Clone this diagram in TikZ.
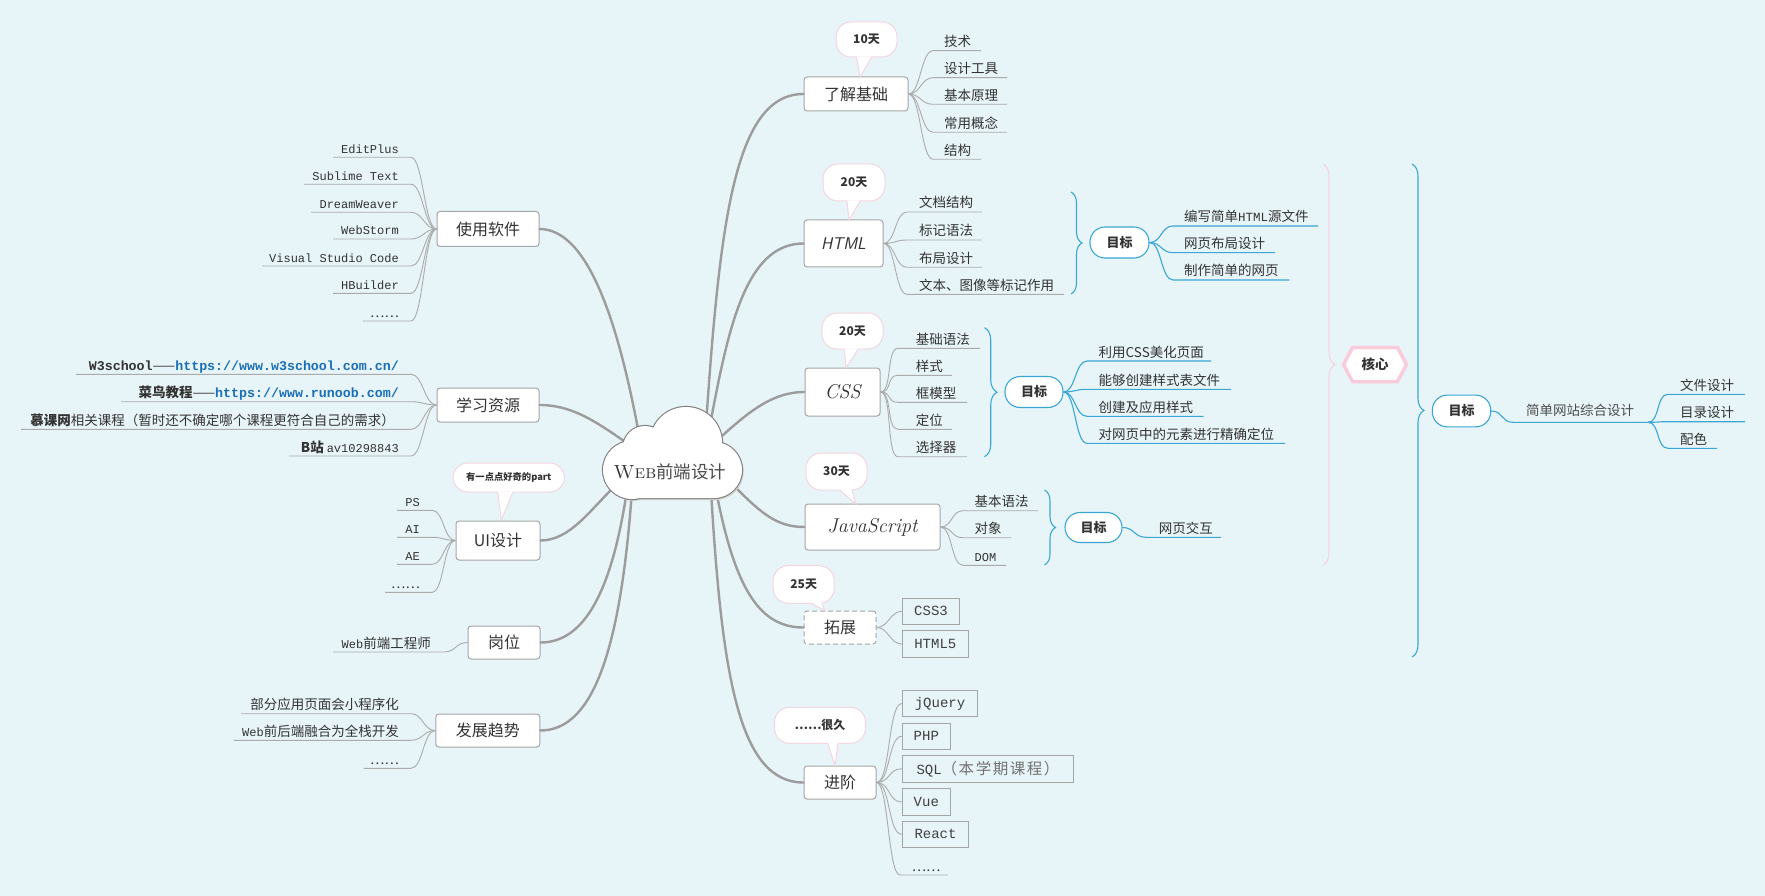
\documentclass[tikz,border=0pt]{standalone}
\usepackage{fontspec}
\newfontfamily\cjk{Noto Sans CJK SC}
\newfontfamily\mono{Liberation Mono}
\usetikzlibrary{decorations.pathreplacing,calc}
\definecolor{bgc}{HTML}{E7F4F8}
\definecolor{txt}{HTML}{333333}
\definecolor{lgray}{HTML}{9C9C9C}
\definecolor{sgray}{HTML}{ABABAB}
\definecolor{bgray}{HTML}{A5A5A5}
\definecolor{bl}{HTML}{3AA7D6}
\definecolor{pk}{HTML}{F4D6E1}
\definecolor{pkh}{HTML}{F8CCDA}
\definecolor{lnk}{HTML}{1A6FB5}
\newcommand{\mt}[1]{{\mono\fontsize{12}{14}\selectfont #1}}
\newcommand{\wb}[1]{{\mono\bfseries\fontsize{13.3}{15}\selectfont #1}}
\newcommand{\lk}[1]{{\mono\bfseries\fontsize{13.3}{15}\selectfont\color{lnk}#1}}
% right item: name, parent, x start, y, x end, x text, text, style
\newcommand{\Rit}[8]{%
  \coordinate (#1s) at (#3,#4);
  \coordinate (#1e) at (#5,#4);
  \node[itm,anchor=base west] (#1) at (#6,#4-4) {#7};
  \draw[#8] (#2) .. controls +(12,0) and +(-12,0) .. (#1s) -- (#1e);
}
% left item: name, parent, x start, y, x end, x text right, text, style
\newcommand{\Lit}[8]{%
  \coordinate (#1s) at (#3,#4);
  \coordinate (#1e) at (#5,#4);
  \node[itm,anchor=base east] (#1) at (#6,#4-4) {#7};
  \draw[#8] (#2) .. controls +(-12,0) and +(12,0) .. (#1s) -- (#1e);
}
% bubble: name, center, w, h, base dx1, base dx2, tip, text
\newcommand{\Bub}[8]{%
  \node[bubble, minimum width=#3, minimum height=#4] (#1) at (#2) {#8};
  \coordinate (#1t) at #7;
  \fill[white] ([xshift=#5, yshift=1.2]#1.south) -- (#1t) -- ([xshift=#6, yshift=1.2]#1.south) -- cycle;
  \draw[draw=pk, line width=1] ([xshift=#5]#1.south) -- (#1t) -- ([xshift=#6]#1.south);
}
\tikzset{
 every node/.style={text=txt, font=\cjk\fontsize{13.5}{15}\selectfont},
 mbox/.style={draw=bgray, fill=white, rounded corners=3, line width=1, inner sep=0, font=\cjk\fontsize{16}{18}\selectfont},
 itm/.style={inner sep=0},
 main/.style={draw=lgray, line width=2.4, line cap=round},
 sub/.style={draw=sgray, line width=0.9},
 subb/.style={draw=bl, line width=1.1},
 bubble/.style={draw=pk, fill=white, rounded corners=15, line width=1, inner sep=0, font=\cjk\bfseries\fontsize{12}{14}\selectfont},
 goal/.style={draw=bl, fill=white, rounded corners=15, line width=1.1, inner sep=0, font=\cjk\bfseries\fontsize{13}{15}\selectfont},
 rbox/.style={draw=bgray, line width=0.9, inner sep=0, font=\mono\fontsize{14}{16}\selectfont, text=black!75},
 brc/.style={decorate, decoration={brace, amplitude=#1}},
}
\begin{document}
\begin{tikzpicture}[x=1pt,y=-1pt]
\fill[bgc] (0,0) rectangle (1765,896);
\useasboundingbox (0,0) rectangle (1765,896);

% ---------- main boxes ----------
\node[mbox, minimum width=102, minimum height=35] (sy) at (488,229) {使用软件};
\node[mbox, minimum width=102, minimum height=34] (xx) at (488,405) {学习资源};
\node[mbox, minimum width=84, minimum height=39] (ui) at (498,540.5) {UI设计};
\node[mbox, minimum width=72, minimum height=33] (gw) at (504,642.5) {岗位};
\node[mbox, minimum width=104, minimum height=33] (fz) at (487.75,730.5) {发展趋势};
\node[mbox, minimum width=104, minimum height=34] (jc) at (856,94) {了解基础};
\node[mbox, minimum width=79, minimum height=47, font=\sffamily\itshape\fontsize{17}{18}\selectfont] (html) at (843.5,243.5) {HTML};
\node[mbox, minimum width=75, minimum height=48, font=\rmfamily\itshape\fontsize{20}{22}\selectfont] (css) at (842.5,392) {CSS};
\node[mbox, minimum width=135, minimum height=46, font=\rmfamily\itshape\fontsize{20}{22}\selectfont] (js) at (872.5,527) {JavaScript};
\node[mbox, minimum width=72, minimum height=33, dash pattern=on 5pt off 3pt] (tz) at (840,627.5) {拓展};
\node[mbox, minimum width=72, minimum height=33] (jj) at (840,782.5) {进阶};

% ---------- main connectors ----------
\coordinate (s1) at (706,425); \coordinate (s2) at (710,425);
\coordinate (s3) at (712,445); \coordinate (s4) at (728,480);
\coordinate (s5) at (716,490); \coordinate (s6) at (711,490);
\coordinate (s7) at (640,440); \coordinate (s8) at (630,445);
\coordinate (s9) at (616,485); \coordinate (s10) at (627,490);
\coordinate (s11) at (632,490);
\draw[main] (s1) .. controls (720,220) and (735,94) .. (jc.west);
\draw[main] (s2) .. controls (728,330) and (745,243.5) .. (html.west);
\draw[main] (s3) .. controls (745,415) and (770,392) .. (css.west);
\draw[main] (s4) .. controls (760,512) and (775,527) .. (js.west);
\draw[main] (s5) .. controls (735,590) and (760,627.5) .. (tz.west);
\draw[main] (s6) .. controls (722,680) and (740,782.5) .. (jj.west);
\draw[main] (s7) .. controls (620,330) and (590,229) .. (sy.east);
\draw[main] (s8) .. controls (600,425) and (575,405) .. (xx.east);
\draw[main] (s9) .. controls (590,510) and (570,540.5) .. (ui.east);
\draw[main] (s10) .. controls (612,590) and (585,642.5) .. (gw.east);
\draw[main] (s11) .. controls (620,660) and (590,730.5) .. (fz.east);

% ---------- cloud ----------
\begin{scope}[shift={(1.5,2)}]
\fill[black!18] (632,470) circle[radius=29pt] (645,448) circle[radius=22pt] (686,443) circle[radius=36pt] (714,470) circle[radius=28pt] (632,452) rectangle (714,498);
\end{scope}
\draw[line width=2.2, draw=black!50] (632,470) circle[radius=29pt] (645,448) circle[radius=22pt] (686,443) circle[radius=36pt] (714,470) circle[radius=28pt] (632,452) rectangle (714,498);
\fill[white] (632,470) circle[radius=29pt] (645,448) circle[radius=22pt] (686,443) circle[radius=36pt] (714,470) circle[radius=28pt] (632,452) rectangle (714,498);
\node[font=\cjk\fontsize{17.5}{19}\selectfont] (web) at (670,472) {{\rmfamily\fontsize{19}{20}\selectfont\textsc{Web}}\textcolor{black!70}{前端设计}};

% ---------- bubbles ----------
\Bub{b10}{866.5,39.5}{61}{35}{-10}{5}{(860,77)}{10天}
\Bub{b20}{854,182.5}{62}{37}{-7}{6}{(849,220)}{20天}
\Bub{b20c}{852.5,331}{61}{36}{-8}{5.5}{(846,368)}{20天}
\Bub{b30}{836.5,471.5}{61}{37}{3.5}{15.5}{(856,504)}{30天}
\Bub{b25}{803.7,584.5}{61}{37.6}{8}{18}{(825,610.5)}{25天}
\Bub{bhj}{820,725.3}{91}{36}{8}{18}{(835,765.7)}{……很久}
\Bub{bui}{508.75,477.5}{111.5}{29}{-11}{4}{(501.3,520)}{\fontsize{9.3}{10}\selectfont 有一点点好奇的part}

% ---------- left items ----------
\Lit{a1}{sy.west}{411}{157.3}{333}{399}{\mt{EditPlus}}{sub}
\Lit{a2}{sy.west}{411}{184.3}{304}{399}{\mt{Sublime Text}}{sub}
\Lit{a3}{sy.west}{411}{212.3}{311}{399}{\mt{DreamWeaver}}{sub}
\Lit{a4}{sy.west}{411}{239}{333}{399}{\mt{WebStorm}}{sub}
\Lit{a5}{sy.west}{411}{266}{262}{399}{\mt{Visual Studio Code}}{sub}
\Lit{a6}{sy.west}{411}{293.3}{333}{399}{\mt{HBuilder}}{sub}
\Lit{a7}{sy.west}{411}{321}{363}{399}{……}{sub}

\Lit{b1}{xx.west}{411}{374.3}{76}{399}{\wb{W3school}——\lk{https://www.w3school.com.cn/}}{sub}
\Lit{b2}{xx.west}{411}{401.7}{121}{399}{{\bfseries 菜鸟教程}——\lk{https://www.runoob.com/}}{sub}
\Lit{b3}{xx.west}{411}{429.3}{21}{395}{{\bfseries 慕课网}相关课程（暂时还不确定哪个课程更符合自己的需求）}{sub}
\Lit{b4}{xx.west}{411}{456}{289}{399}{{\bfseries B站} \mt{av10298843}}{sub}

\Lit{c1}{ui.west}{432}{510.3}{397}{420}{\mt{PS}}{sub}
\Lit{c2}{ui.west}{432}{537.3}{397}{420}{\mt{AI}}{sub}
\Lit{c3}{ui.west}{432}{564.3}{397}{420}{\mt{AE}}{sub}
\Lit{c4}{ui.west}{432}{592.3}{385}{420}{……}{sub}

\Lit{d1}{gw.west}{444}{652}{333}{431}{\mt{Web}前端工程师}{sub}

\Lit{e1}{fz.west}{411}{713.7}{241}{399}{部分应用页面会小程序化}{sub}
\Lit{e2}{fz.west}{411}{740.3}{233.5}{399}{\mt{Web}前后端融合为全栈开发}{sub}
\Lit{e3}{fz.west}{411}{768.3}{363.5}{399}{……}{sub}

% ---------- right items ----------
\Rit{f1}{jc.east}{933}{50.7}{981}{944}{技术}{sub}
\Rit{f2}{jc.east}{933}{77.7}{1007}{944}{设计工具}{sub}
\Rit{f3}{jc.east}{933}{104.3}{1007}{944}{基本原理}{sub}
\Rit{f4}{jc.east}{933}{132.3}{1007}{944}{常用概念}{sub}
\Rit{f5}{jc.east}{933}{159.3}{981}{944}{结构}{sub}

\Rit{g1}{html.east}{907}{212}{982}{919}{文档结构}{sub}
\Rit{g2}{html.east}{907}{240}{982}{919}{标记语法}{sub}
\Rit{g3}{html.east}{907}{267.3}{982}{919}{布局设计}{sub}
\Rit{g4}{html.east}{907}{294.3}{1064}{919}{文本、图像等标记作用}{sub}

\Rit{h1}{css.east}{898}{348.3}{980}{915.6}{基础语法}{sub}
\Rit{h2}{css.east}{898}{375.3}{952}{915.6}{样式}{sub}
\Rit{h3}{css.east}{898}{402.3}{967}{915.6}{框模型}{sub}
\Rit{h4}{css.east}{898}{429.3}{952}{915.6}{定位}{sub}
\Rit{h5}{css.east}{898}{456.7}{967}{915.6}{选择器}{sub}

\Rit{i1}{js.east}{963}{510.7}{1038}{974.5}{基本语法}{sub}
\Rit{i2}{js.east}{963}{537.7}{1011}{974.5}{对象}{sub}
\Rit{i3}{js.east}{963}{565.3}{1006}{974.5}{\mt{DOM}}{sub}

% ---------- extension boxes ----------
\node[rbox, minimum width=57, minimum height=26] (c3b) at (931,611.3) {CSS3};
\node[rbox, minimum width=66, minimum height=26.6] (h5b) at (935.3,644) {HTML5};
\draw[sub] (tz.east) .. controls +(12,0) and +(-12,0) .. (c3b.west);
\draw[sub] (tz.east) .. controls +(12,0) and +(-12,0) .. (h5b.west);

\node[rbox, minimum width=75.4, minimum height=26.4] (q1) at (940,703.5) {jQuery};
\node[rbox, minimum width=48, minimum height=26] (q2) at (926.3,736.3) {PHP};
\node[rbox, minimum width=171.4, minimum height=27] (q3) at (988,768.8) {SQL{\cjk\fontsize{15.5}{17}\selectfont\addfontfeature{LetterSpace=10}\color{black!55}（本学期课程）}};
\node[rbox, minimum width=48, minimum height=26.6] (q4) at (926.3,802) {Vue};
\node[rbox, minimum width=66.4, minimum height=26] (q5) at (935.5,834.3) {React};
\foreach \q in {q1,q2,q3,q4,q5}{
  \draw[sub] (jj.east) .. controls +(14,0) and +(-14,0) .. (\q.west);
}
\Rit{q6}{jj.east}{900}{875}{948}{911.7}{……}{sub}

% ---------- goals ----------
\draw[brc=11, draw=bl, line width=1.1] (1071,192) -- (1071,294);
\node[goal, minimum width=59, minimum height=31] (gh) at (1119.5,242.5) {目标};
\Rit{j1}{gh.east}{1173}{226}{1318}{1184}{编写简单{\mono\fontsize{12.5}{14}\selectfont HTML}源文件}{subb}
\Rit{j2}{gh.east}{1173}{252.7}{1275}{1184}{网页布局设计}{subb}
\Rit{j3}{gh.east}{1173}{280}{1289}{1184}{制作简单的网页}{subb}

\draw[brc=12.5, draw=bl, line width=1.1] (984.5,327.7) -- (984.5,456.7);
\node[goal, minimum width=58, minimum height=31] (gc) at (1034,392) {目标};
\Rit{k1}{gc.east}{1087}{361}{1211}{1098.5}{利用CSS美化页面}{subb}
\Rit{k2}{gc.east}{1087}{389.3}{1231}{1098.5}{能够创建样式表文件}{subb}
\Rit{k3}{gc.east}{1087}{416.3}{1203.5}{1098.5}{创建及应用样式}{subb}
\Rit{k4}{gc.east}{1087}{443.3}{1285}{1098.5}{对网页中的元素进行精确定位}{subb}

\draw[brc=11, draw=bl, line width=1.1] (1044.5,490) -- (1044.5,565);
\node[goal, minimum width=57, minimum height=30] (gj) at (1093.5,527.5) {目标};
\Rit{l1}{gj.east}{1146}{537.3}{1221}{1158.7}{网页交互}{subb}

% ---------- core ----------
\draw[brc=12, draw=pk, line width=1.2] (1323,164) -- (1323,565);
\draw[draw=pkh, line width=3.5, fill=white] (1343.5,364.5) -- (1352.5,347.5) -- (1397.5,347.5) -- (1406.5,364.5) -- (1397.5,381.5) -- (1352.5,381.5) -- cycle;
\node[font=\cjk\bfseries\fontsize{13.5}{15}\selectfont, inner sep=0] (hx) at (1375,364.5) {核心};

\draw[brc=12, draw=bl, line width=1.1] (1412,164) -- (1412,657);
\node[goal, minimum width=58.4, minimum height=31.7] (gf) at (1461.5,411) {目标};
\coordinate (zhs) at (1513,422.3);
\coordinate (zhe) at (1648,422.3);
\node[itm, anchor=base west, text=black!70] (zh) at (1526,415) {简单网站综合设计};
\draw[subb] (gf.east) .. controls +(12,0) and +(-12,0) .. (zhs) -- (zhe);
\Rit{m1}{zhe}{1668}{394.3}{1745}{1680}{文件设计}{subb}
\Rit{m2}{zhe}{1668}{421.7}{1745}{1680}{目录设计}{subb}
\Rit{m3}{zhe}{1668}{448.3}{1717}{1680}{配色}{subb}
\end{tikzpicture}
\end{document}
